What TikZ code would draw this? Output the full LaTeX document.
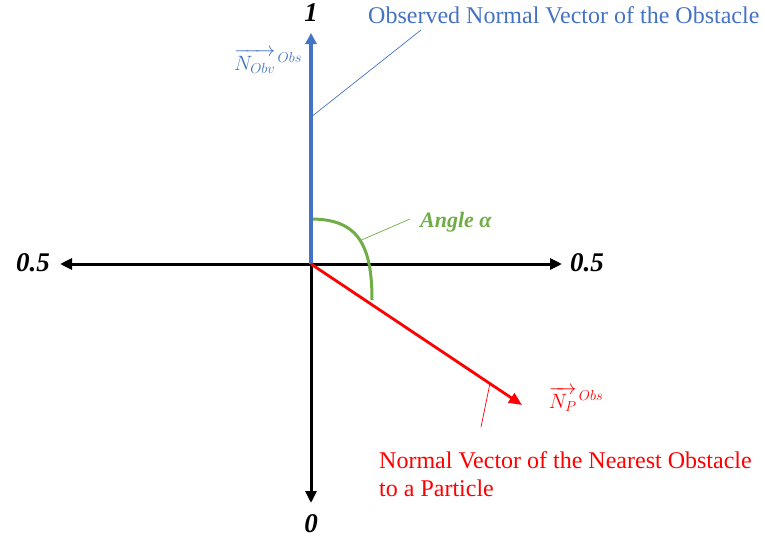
\documentclass[tikz,border=0pt]{standalone}
\usepackage{amsmath}
\usepackage{fontspec}
\setmainfont{Liberation Serif}
\usetikzlibrary{arrows.meta,positioning,calc}
\definecolor{obsblue}{HTML}{4472C4}
\definecolor{anggreen}{HTML}{70AD47}
\definecolor{nearred}{HTML}{FF0000}

\begin{document}
\begin{tikzpicture}[
  x=1pt, y=-1pt,
  axis/.style={line width=3pt, draw=black},
  axtip/.style={-{Triangle[length=12pt, width=11pt]}},
  obsvec/.style={line width=3.4pt, draw=obsblue, -{Triangle[length=11pt, width=11pt]}},
  nearvec/.style={line width=2.8pt, draw=nearred, -{Triangle[length=13pt, width=11pt]}},
  anglearc/.style={line width=3pt, draw=anggreen},
  leader/.style={line width=0.7pt},
  ticklabel/.style={font=\fontsize{27}{27}\selectfont\bfseries\itshape, inner sep=1pt},
  note/.style={font=\fontsize{24}{28}\selectfont, inner sep=1pt, align=left},
  veclabel/.style={font=\fontsize{21}{21}\selectfont, inner sep=1pt}
]
  \useasboundingbox (0,0) rectangle (765,544);

  % --- Axes ---
  \coordinate (orig) at (311,264);
  \coordinate (axleft) at (60,264);
  \coordinate (axright) at (562,264);
  \coordinate (axbot) at (311,503);
  \coordinate (axtop) at (311,33);
  \coordinate (ptip) at (522,405);

  \draw[axis, {Triangle[length=12pt, width=11pt]}-{Triangle[length=12pt, width=11pt]}] (axleft) -- (axright);
  \draw[axis, axtip] (orig) -- (axbot);

  % --- Tick labels ---
  \node[ticklabel] (one)    at (311,13)  {1};
  \node[ticklabel] (zero)   at (311,524) {0};
  \node[ticklabel] (lhalf)  at (33,263)  {0.5};
  \node[ticklabel] (rhalf)  at (587,263) {0.5};

  % --- Angle between the two normals ---
  \coordinate (atop) at (311,219);
  \coordinate (abot) at (372,300);
  \draw[anglearc] (atop) .. controls (358,219) and (372,245) .. (abot)
       coordinate[pos=0.52] (amid);

  % --- Observed normal (blue) and particle normal (red) ---
  \draw[obsvec] (orig) -- (axtop) coordinate[pos=0.636] (bmid);
  \draw[nearvec] (orig) -- (ptip) coordinate[pos=0.848] (rmid);

  % --- Labels and their leaders ---
  \node[note, text=obsblue, anchor=base west] (obsnote) at (367,23)
       {Observed Normal Vector of the Obstacle};
  \node[veclabel, text=obsblue] (nobv) at (268,61)
       {$\overrightarrow{N_{Obv}}^{\,Obs}$};
  \node[note, anchor=base west, text=anggreen, font=\fontsize{22}{22}\selectfont\bfseries\itshape]
       (anglenote) at (419,227) {Angle α};
  \node[veclabel, text=nearred] (np) at (576,399)
       {$\overrightarrow{N_{P}}^{\,Obs}$};
  \node[note, text=nearred, anchor=north west] (nearnote) at (378,450)
       {Normal Vector of the Nearest Obstacle\\to a Particle};

  \coordinate (bend) at (421,30);
  \coordinate (gend) at (410,219);
  \coordinate (rend) at (481,427);
  \draw[leader, obsblue] (bmid) -- (bend);
  \draw[leader, anggreen] (amid) -- (gend);
  \draw[leader, nearred] (rmid) -- (rend);
\end{tikzpicture}
\end{document}
